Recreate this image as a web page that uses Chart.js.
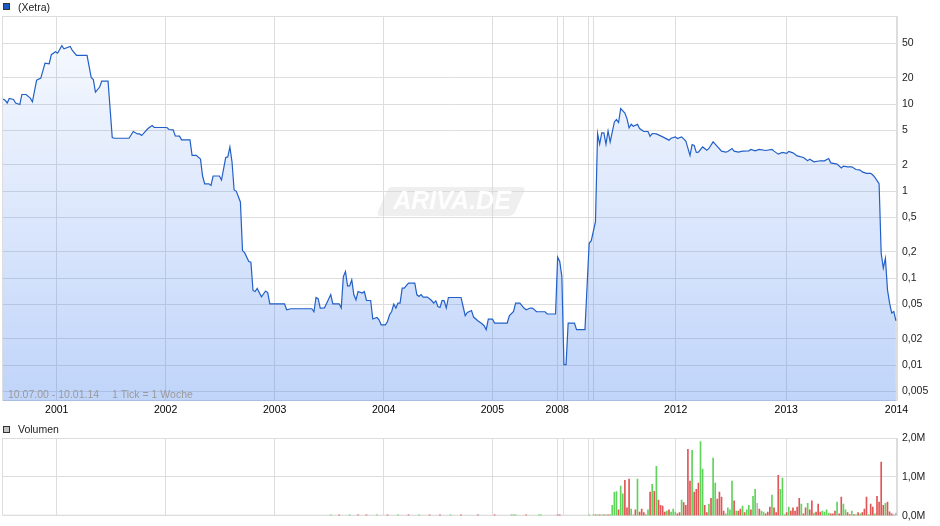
<!DOCTYPE html>
<html>
<head>
<meta charset="utf-8">
<script src="https://cdn.jsdelivr.net/npm/chart.js@4.4.1/dist/chart.umd.min.js"></script>
<style>
body { margin: 0; background: #fff; width: 940px; height: 526px; overflow: hidden; position: relative; font-family: "Liberation Sans", Arial, sans-serif; }
canvas { position: absolute; left: 0; }
#price { top: 0; }
#volume { top: 420px; }
.key { position: absolute; width: 5px; height: 5px; border: 1px solid #333; left: 3px; }
.label { position: absolute; left: 18px; font-size: 10.5px; line-height: 12px; color: #222; white-space: nowrap; }
</style>
</head>
<body>
<canvas id="price" width="940" height="420"></canvas>
<canvas id="volume" width="940" height="106"></canvas>
<div class="key" style="top:3px;background:#1d5bc4"></div>
<div class="label" style="top:1px">(Xetra)</div>
<div class="key" style="top:426px;background:#c4c4c4"></div>
<div class="label" style="top:423px">Volumen</div>
<script>
/* Data: x = trading week index (1 Tick = 1 Woche), 10.07.00 - 10.01.14 */

var yearWeeks  = [25.6, 77.4, 129.3, 181.2, 232.9, 263.8, 266.9, 278.8, 281.2, 320.2, 372.8, 425.3];
var yearLabels = ['2001', '2002', '2003', '2004', '2005', '2008', '', '', '', '2012', '2013', '2014'];

var priceTicks = [0.005, 0.01, 0.02, 0.05, 0.1, 0.2, 0.5, 1, 2, 5, 10, 20, 50];
var volumeTicks = [0, 1, 2];

var priceWeeks = [
	0, 1, 2, 3, 5, 6, 8, 9, 11, 13,
	14, 16, 18, 20, 22, 23, 25, 26, 28, 29,
	32, 33, 35, 40, 42, 43, 44, 46, 47, 50,
	52, 53, 60, 62, 64, 65, 66, 69, 71, 72,
	78, 79, 81, 82, 84, 85, 89, 90, 92, 94,
	95, 96, 98, 99, 100, 103, 104, 106, 107, 108,
	109, 110, 111, 113, 114, 115, 117, 118, 119, 120,
	121, 123, 125, 126, 127, 134, 135, 137, 147, 148,
	149, 150, 151, 153, 154, 156, 157, 160, 161, 162,
	163, 164, 165, 166, 167, 168, 169, 171, 172, 173,
	175, 176, 178, 179, 180, 182, 183, 184, 185, 186,
	187, 188, 189, 190, 191, 193, 196, 197, 198, 199,
	200, 202, 204, 205, 206, 207, 208, 209, 210, 211,
	212, 218, 219, 220, 221, 222, 223, 224, 226, 228,
	229, 230, 231, 233, 234, 240, 241, 243, 244, 246,
	248, 249, 251, 252, 254, 258, 259, 263, 264, 265,
	266, 267, 268, 269, 272, 273, 277, 279, 280, 282,
	283, 284, 285, 286, 287, 288, 289, 291, 292, 293,
	294, 296, 297, 298, 299, 300, 302, 303, 305, 307,
	308, 309, 311, 314, 317, 318, 320, 321, 323, 325,
	327, 328, 329, 330, 331, 333, 335, 336, 338, 339,
	342, 344, 345, 347, 348, 350, 352, 355, 356, 358,
	360, 363, 366, 367, 369, 371, 373, 374, 376, 378,
	381, 383, 384, 386, 389, 391, 393, 394, 397, 399,
	400, 402, 404, 406, 408, 409, 411, 413, 414, 415,
	417, 418, 419, 420, 421, 422, 423, 424, 425
];

var priceValues = [
	11.4, 11.1, 10.3, 11.6, 11.3, 10.3, 9.9, 12.9, 12.9, 11.7,
	10.6, 18.8, 19.9, 29.6, 29.1, 37, 40, 38.5, 46.9, 43.3,
	46, 41.4, 36.3, 36.3, 20.1, 19.1, 13.7, 15.7, 18.4, 18.4,
	4.13, 4.05, 4.05, 4.84, 4.54, 4.54, 4.35, 5.24, 5.67, 5.38,
	5.38, 5.1, 5.05, 4.31, 4.28, 3.88, 3.88, 2.57, 2.57, 2.33,
	1.49, 1.21, 1.21, 1.16, 1.49, 1.49, 1.34, 2.43, 2.47, 3.22,
	2.17, 1.03, 1.0, 0.75, 0.207, 0.196, 0.155, 0.152, 0.072, 0.070,
	0.076, 0.061, 0.071, 0.068, 0.0506, 0.0506, 0.0432, 0.0444, 0.0444, 0.041,
	0.0598, 0.058, 0.0452, 0.0455, 0.051, 0.0647, 0.0506, 0.0506, 0.0453, 0.104,
	0.119, 0.0814, 0.0814, 0.0953, 0.0642, 0.0562, 0.070, 0.0673, 0.070, 0.0552,
	0.0552, 0.0338, 0.0352, 0.0331, 0.029, 0.029, 0.0317, 0.0379, 0.0413, 0.0502,
	0.0452, 0.0515, 0.0515, 0.0766, 0.0766, 0.0874, 0.0874, 0.0642, 0.0614, 0.0647,
	0.0604, 0.0604, 0.0552, 0.0515, 0.0548, 0.0471, 0.0459, 0.0552, 0.0548, 0.0452,
	0.0598, 0.0598, 0.0471, 0.0369, 0.0402, 0.0413, 0.0424, 0.0356, 0.0323, 0.0298,
	0.0283, 0.0255, 0.0338, 0.0338, 0.0304, 0.0304, 0.0369, 0.0413, 0.0515, 0.0515,
	0.0452, 0.0432, 0.0452, 0.0452, 0.041, 0.041, 0.0386, 0.0386, 0.174, 0.155,
	0.104, 0.0101, 0.0101, 0.0304, 0.0304, 0.0255, 0.0255, 0.251, 0.269, 0.445,
	4.59, 3.46, 4.66, 4.66, 3.46, 4.91, 3.68, 6.24, 6.64, 6.14,
	8.87, 7.9, 6.82, 5.32, 5.87, 5.56, 5.87, 5.24, 4.84, 4.84,
	4.27, 4.59, 4.54, 4.2, 3.85, 4.05, 4.2, 4.02, 4.2, 3.77,
	2.57, 3.43, 3.34, 2.78, 2.8, 3.22, 2.95, 3.09, 3.68, 3.46,
	2.88, 2.8, 2.85, 3.09, 2.88, 2.8, 2.88, 2.9, 3.01, 2.9,
	3.01, 2.93, 3.01, 2.88, 2.66, 2.78, 2.71, 2.85, 2.75, 2.54,
	2.43, 2.23, 2.33, 2.17, 2.23, 2.23, 2.37, 2.11, 2.04, 1.84,
	1.94, 1.9, 1.9, 1.77, 1.74, 1.66, 1.6, 1.6, 1.53, 1.44,
	1.22, 0.193, 0.13, 0.169, 0.0732, 0.0515, 0.0396, 0.0413, 0.0323
];

/* weekly volume in millions, g = up week, r = down week, n = unchanged */
var volEarlyWeeks  = [156, 160, 165, 169, 173, 178, 183, 188, 193, 198, 203, 208, 213, 218, 226, 234, 242, 243, 244, 249, 255, 256, 264, 265, 279, 281, 282, 283, 284, 285, 286, 287, 288, 289];
var volEarlyValues = [0.02, 0.02, 0.02, 0.02, 0.02, 0.02, 0.02, 0.02, 0.02, 0.02, 0.02, 0.02, 0.02, 0.02, 0.02, 0.02, 0.02, 0.02, 0.02, 0.02, 0.02, 0.02, 0.02, 0.02, 0.02, 0.02, 0.02, 0.02, 0.02, 0.02, 0.02, 0.02, 0.02, 0.03];
var volEarlyTrend  = ['g', 'r', 'g', 'r', 'r', 'g', 'r', 'g', 'r', 'g', 'r', 'r', 'g', 'r', 'r', 'r', 'g', 'g', 'g', 'r', 'g', 'g', 'r', 'r', 'g', 'g', 'r', 'g', 'r', 'g', 'r', 'g', 'r', 'g'];

var volStartWeek = 290;
var volValues = [
	0.27, 0.60, 0.62, 0.15, 0.76, 0.56, 0.91, 0.20, 0.94, 0.17,
	0.03, 0.15, 0.94, 0.09, 0.17, 0.08, 0.03, 0.15, 0.61, 0.81,
	0.63, 1.27, 0.40, 0.27, 0.25, 0.09, 0.12, 0.15, 0.09, 0.17,
	0.09, 0.05, 0.08, 0.40, 0.34, 0.27, 1.71, 0.89, 1.68, 0.61,
	0.68, 0.84, 1.91, 1.20, 0.27, 0.08, 0.30, 0.45, 1.48, 0.84,
	0.43, 0.61, 0.48, 0.12, 0.05, 0.20, 0.15, 0.89, 0.38, 0.12,
	0.12, 0.17, 0.25, 0.08, 0.15, 0.27, 0.15, 0.50, 0.68, 0.32,
	0.17, 0.12, 0.09, 0.05, 0.09, 0.22, 0.53, 0.20, 0.08, 1.04,
	0.68, 0.97, 0.03, 0.08, 0.22, 0.12, 0.20, 0.12, 0.22, 0.45,
	0.30, 0.05, 0.20, 0.32, 0.15, 0.38, 0.07, 0.09, 0.30, 0.09,
	0.12, 0.09, 0.15, 0.07, 0.05, 0.05, 0.12, 0.35, 0.05, 0.48,
	0.30, 0.15, 0.08, 0.03, 0.12, 0.03, 0.03, 0.08, 0.05, 0.08,
	0.17, 0.48, 0.03, 0.30, 0.22, 0.05, 0.50, 0.35, 1.38, 0.27,
	0.32, 0.35, 0.10, 0.05, 0.03, 0.07
];
var volTrend = [
	'g', 'g', 'g', 'r', 'g', 'g', 'r', 'r', 'r', 'g',
	'n', 'r', 'g', 'r', 'r', 'r', 'g', 'g', 'r', 'g',
	'r', 'g', 'r', 'r', 'r', 'r', 'g', 'r', 'g', 'g',
	'g', 'r', 'r', 'g', 'r', 'r', 'r', 'r', 'g', 'r',
	'r', 'r', 'g', 'g', 'r', 'r', 'g', 'r', 'g', 'g',
	'r', 'r', 'r', 'r', 'g', 'g', 'g', 'g', 'r', 'g',
	'r', 'r', 'g', 'r', 'g', 'g', 'r', 'g', 'g', 'n',
	'r', 'g', 'g', 'r', 'r', 'r', 'g', 'r', 'r', 'r',
	'g', 'g', 'g', 'r', 'g', 'r', 'r', 'r', 'r', 'r',
	'g', 'r', 'r', 'g', 'r', 'r', 'g', 'r', 'r', 'r',
	'g', 'g', 'g', 'g', 'r', 'r', 'r', 'g', 'r', 'r',
	'g', 'g', 'r', 'r', 'g', 'r', 'g', 'r', 'g', 'r',
	'r', 'r', 'g', 'r', 'r', 'g', 'r', 'r', 'r', 'r',
	'g', 'r', 'r', 'r', 'n', 'n'
];

var trendColors = { g: '#5fd35a', r: '#e05555', n: '#b8b8b8' };
var gridColor = '#dddddd';
var tickFont = { family: 'Liberation Sans', size: 10.5 };

function deComma( v ) {
	return String( v ).replace( '.', ',' ) ;
}

/* Plugins */

var frame = {
	id: 'frame',
	beforeDatasetsDraw: function( chart ) {
		var ctx = chart.ctx, a = chart.chartArea;
		ctx.save();
		ctx.strokeStyle = gridColor;
		ctx.lineWidth = 1;
		ctx.strokeRect( a.left - 0.5, a.top + 0.5, a.right - a.left, a.bottom - a.top - 1 );
		ctx.restore();
	}
};

var watermark = {
	id: 'watermark',
	beforeDatasetsDraw: function( chart ) {
		var ctx = chart.ctx;
		ctx.save();
		ctx.fillStyle = 'rgba(215,215,215,0.4)';
		ctx.beginPath();
		ctx.moveTo( 392, 187 );
		ctx.lineTo( 521, 187 );
		ctx.quadraticCurveTo( 526, 187, 524, 192 );
		ctx.lineTo( 515, 212 );
		ctx.quadraticCurveTo( 513, 216, 508, 216 );
		ctx.lineTo( 381, 216 );
		ctx.quadraticCurveTo( 376, 216, 378, 211 );
		ctx.lineTo( 387, 191 );
		ctx.quadraticCurveTo( 389, 187, 392, 187 );
		ctx.closePath();
		ctx.fill();
		ctx.font = 'italic bold 25px "Liberation Sans"';
		ctx.textAlign = 'center';
		ctx.textBaseline = 'middle';
		ctx.fillStyle = 'rgba(255,255,255,0.95)';
		ctx.fillText( 'ARIVA.DE', 452, 202 );
		ctx.restore();
	}
};

var rangeText = {
	id: 'rangeText',
	afterDatasetsDraw: function( chart ) {
		var ctx = chart.ctx;
		ctx.save();
		ctx.font = '10.5px "Liberation Sans"';
		ctx.fillStyle = '#9a9a9a';
		ctx.textBaseline = 'alphabetic';
		ctx.fillText( '10.07.00 - 10.01.14', 8, 398 );
		ctx.fillText( '1 Tick = 1 Woche', 112, 398 );
		ctx.restore();
	}
};

function yearAxis( showLabels, height ) {
	return {
		type: 'linear',
		min: 0,
		max: 426,
		offset: false,
		afterBuildTicks: function( scale ) {
			scale.ticks = yearWeeks.map( function( w ) { return { value: w }; } );
		},
		afterFit: function( scale ) { scale.height = height; },
		grid: { color: gridColor, drawTicks: false, offset: false },
		border: { display: false },
		ticks: {
			display: showLabels,
			autoSkip: false,
			maxRotation: 0,
			padding: 3,
			color: '#000',
			font: tickFont,
			callback: function( v ) {
				var i = yearWeeks.indexOf( v );
				return i < 0 ? '' : yearLabels[ i ];
			}
		}
	};
}

/* Price chart */

var priceData = priceWeeks.map( function( w, i ) { return { x: w, y: priceValues[ i ] }; } );

var ctxprice = document.getElementById( 'price' ).getContext( '2d' );
var priceChart = new Chart( ctxprice, {
	type: 'line',
	data: {
		datasets: [{
			label: '(Xetra)',
			data: priceData,
			borderColor: '#2260c8',
			borderWidth: 1.2,
			pointRadius: 0,
			tension: 0,
			fill: 'start',
			backgroundColor: function( c ) {
				var a = c.chart.chartArea;
				if ( !a ) return 'rgba(70,130,240,0.2)';
				var g = c.chart.ctx.createLinearGradient( 0, a.top, 0, a.bottom );
				g.addColorStop( 0, 'rgba(70,130,240,0.03)' );
				g.addColorStop( 1, 'rgba(70,130,240,0.34)' );
				return g;
			}
		}]
	},
	options: {
		responsive: false,
		animation: false,
		layout: { padding: { top: 16, left: 3, right: 0, bottom: 0 } },
		plugins: { legend: { display: false }, tooltip: { enabled: false } },
		scales: {
			x: yearAxis( true, 19 ),
			y: {
				type: 'logarithmic',
				position: 'right',
				min: 0.00386,
				max: 103,
				afterBuildTicks: function( scale ) {
					scale.ticks = priceTicks.map( function( v ) { return { value: v }; } );
				},
				afterFit: function( scale ) { scale.width = 42; },
				grid: { color: gridColor, drawTicks: false },
				border: { display: false },
				ticks: { padding: 4, color: '#222', font: tickFont, callback: function( v ) { return deComma( v ); } }
			}
		}
	},
	plugins: [ frame, watermark, rangeText ]
});

/* Volume chart */

var volData = [], volColors = [];
volEarlyWeeks.forEach( function( w, i ) {
	volData.push( { x: w, y: volEarlyValues[ i ] } );
	volColors.push( trendColors[ volEarlyTrend[ i ] ] );
});
volValues.forEach( function( v, i ) {
	volData.push( { x: volStartWeek + i, y: v } );
	volColors.push( trendColors[ volTrend[ i ] ] );
});

var ctxvol = document.getElementById( 'volume' ).getContext( '2d' );
var volChart = new Chart( ctxvol, {
	type: 'bar',
	data: {
		datasets: [{
			label: 'Volumen',
			data: volData,
			backgroundColor: volColors,
			barThickness: 1,
			borderWidth: 0
		}]
	},
	options: {
		responsive: false,
		animation: false,
		layout: { padding: { top: 18, left: 3, right: 0, bottom: 0 } },
		plugins: { legend: { display: false }, tooltip: { enabled: false } },
		scales: {
			x: yearAxis( false, 10 ),
			y: {
				position: 'right',
				min: 0,
				max: 2,
				afterBuildTicks: function( scale ) {
					scale.ticks = volumeTicks.map( function( v ) { return { value: v }; } );
				},
				afterFit: function( scale ) { scale.width = 42; },
				grid: { color: gridColor, drawTicks: false },
				border: { display: false },
				ticks: { padding: 4, color: '#222', font: tickFont, callback: function( v ) { return deComma( v.toFixed( 1 ) ) + 'M'; } }
			}
		}
	},
	plugins: [ frame ]
});
</script>
</body>
</html>
